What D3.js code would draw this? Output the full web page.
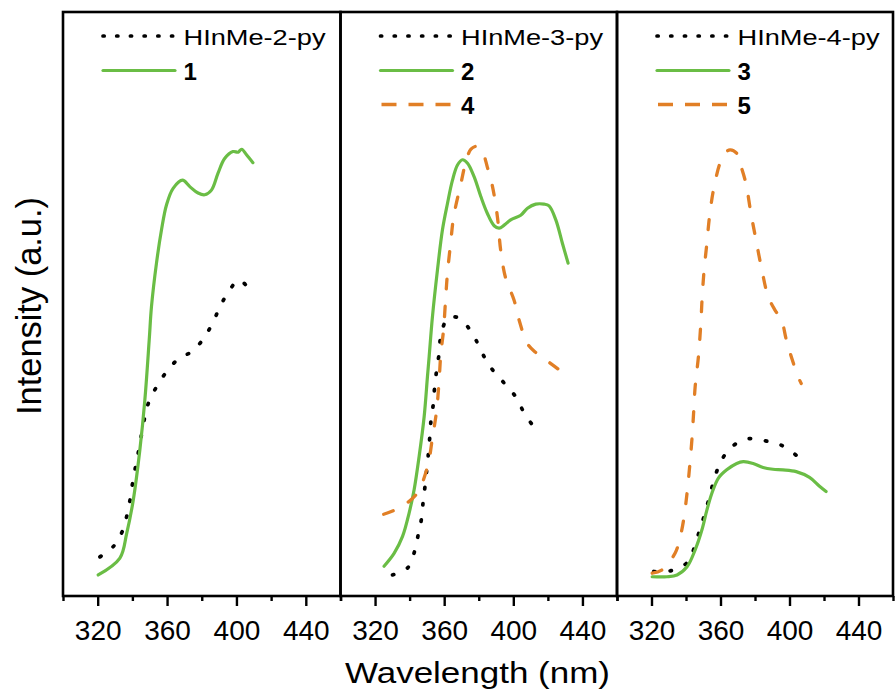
<!DOCTYPE html>
<html><head><meta charset="utf-8">
<script src="https://cdn.jsdelivr.net/npm/d3@7"></script>
<style>
body{margin:0;background:#fff}
text{font-family:"Liberation Sans",Arial,Helvetica,sans-serif;fill:#000}
</style>
</head><body>
<svg id="chart" width="895" height="695"></svg>
<script>
// ---------- data ----------
const xTicks = [300,320,340,360,380,400,420,440,460];
const xTickLabels = [320,360,400,440];

// Panel 1
const wl2py  = [321.3,329.4,334.1,336.7,338.6,340.1,341.8,343.7,347.2,349.7,354.3,360.0,366.9,374.6,381.3,386.5,390.8,396.1,401.5,408.6];
const int2py = [6.7,8.6,11.0,13.6,16.4,19.3,22.1,25.0,30.7,33.4,36.0,38.5,40.7,41.9,44.2,46.9,49.7,52.4,54.1,52.1];
const wlC1   = [320.3,332.8,336.7,340.5,344.3,347.2,349.7,351.0,353.9,356.8,359.7,363.5,368.9,373.1,377.9,381.7,385.6,389.4,393.2,398.0,401.0,403.0,405.7,409.5];
const intC1  = [3.6,6.5,10.7,16.4,25.0,33.6,43.8,49.5,57.0,62.7,67.0,69.8,71.2,70.1,69.0,68.7,69.5,72.4,74.9,76.1,76.0,76.5,75.6,74.2];

// Panel 2
const wl3py  = [330.1,339.1,343.0,345.1,346.9,347.8,348.9,350.9,351.7,352.4,353.8,354.5,355.7,357.0,358.0,361.5,365.0,369.2,376.4,381.2,386.0,393.7,401.4,406.2,411.7];
const int3py = [3.6,4.9,7.8,10.7,13.3,16.1,18.8,24.5,27.4,30.2,33.1,35.9,38.8,41.4,44.4,47.4,47.8,47.5,44.9,42.1,39.5,36.8,34.1,31.4,29.0];
const wlC2   = [325.2,331.0,335.9,339.7,342.6,345.5,348.4,350.3,351.3,353.2,356.1,359.0,361.9,364.8,367.7,370.6,373.5,377.3,381.2,385.0,388.9,391.8,394.7,398.5,404.3,408.2,413.0,417.8,420.7,424.6,428.4,431.7];
const intC2  = [5.1,7.3,10.2,14.2,18.2,23.9,30.7,37.5,41.0,47.8,55.8,62.7,67.2,71.2,73.8,74.7,74.1,71.8,68.4,65.5,63.4,63.0,63.5,64.4,65.2,66.4,67.1,67.1,66.8,64.4,60.4,57.0];
const wlC4   = [325.0,332.0,343.6,350.3,353.2,355.5,357.0,358.0,359.6,360.9,361.9,363.8,365.5,369.6,372.5,375.5,379.0,382.0,385.0,387.9,390.8,392.7,395.6,400.4,403.3,408.2,413.0,421.7,427.5];
const intC4  = [14.0,14.8,17.3,22.1,27.1,31.5,36.6,41.3,45.5,51.2,55.3,60.6,65.0,70.5,74.3,76.5,77.0,76.2,73.4,70.2,64.9,59.2,54.4,50.7,47.3,43.2,41.7,39.8,38.5];

// Panel 3
const wl4py  = [321.3,330.9,340.6,345.3,348.2,351.1,353.6,356.3,359.7,365.9,375.5,385.1,394.7,404.3];
const int4py = [4.2,4.3,5.7,8.7,11.6,14.2,17.0,19.9,22.7,25.4,26.9,26.6,25.9,24.0];
const wlC3   = [320.4,329.0,334.8,340.6,345.3,349.2,352.1,355.0,358.8,363.6,369.4,373.2,378.9,384.7,390.4,396.2,403.9,411.6,417.4,421.2];
const intC3  = [3.3,3.3,3.6,5.0,7.9,11.3,14.7,17.6,20.2,21.6,22.7,23.0,22.7,22.0,21.7,21.6,21.3,20.3,18.8,17.9];
const wlC5   = [320.4,326.2,333.8,336.7,338.6,340.6,342.1,343.4,344.4,345.3,347.2,348.6,349.4,350.5,352.1,353.6,355.9,359.7,362.6,365.5,369.4,371.3,374.7,377.6,380.5,383.8,387.6,391.5,395.3,398.2,401.0,404.9,406.8];
const intC5  = [3.9,4.5,7.4,10.2,13.0,17.6,22.1,26.7,31.3,35.8,41.0,46.7,51.3,55.8,60.4,64.9,69.5,74.1,75.8,76.4,75.8,74.1,70.7,65.6,61.1,56.1,51.3,49.0,47.3,43.8,41.0,37.6,36.4];

const panel1Names = ["HInMe-2-py","1"];
const panel2Names = ["HInMe-3-py","2","4"];
const panel3Names = ["HInMe-4-py","3","5"];

// ---------- styles / layout ----------
const styles = {
  ligand: {color:"#000000", width:3.7, dash:"1.4,15", cap:"round", legendDash:"1.2,12.5"},
  green:  {color:"#6abd45", width:3.2, dash:null, cap:"round", legendDash:null},
  orange: {color:"#e17f26", width:3.3, dash:"10,17.5", cap:"round", legendDash:"15,12"}
};

const panels = [
  {left:63,    right:340.5, series:[
     {name:panel1Names[0], s:"ligand", x:wl2py, y:int2py},
     {name:panel1Names[1], s:"green",  x:wlC1,  y:intC1}]},
  {left:340.5, right:617,   series:[
     {name:panel2Names[0], s:"ligand", x:wl3py, y:int3py},
     {name:panel2Names[1], s:"green",  x:wlC2,  y:intC2},
     {name:panel2Names[2], s:"orange", x:wlC4,  y:intC4}]},
  {left:617,   right:893,   series:[
     {name:panel3Names[0], s:"ligand", x:wl4py, y:int4py},
     {name:panel3Names[1], s:"green",  x:wlC3,  y:intC3},
     {name:panel3Names[2], s:"orange", x:wlC5,  y:intC5}]}
];

const plotTop = 12, plotBottom = 596;
const svg = d3.select("#chart");
svg.append("rect").attr("width",895).attr("height",695).attr("fill","#fff");

const yScale = d3.scaleLinear().domain([0,100]).range([plotBottom, plotTop]);
const legendRowY = [36, 70.5, 104.5];

panels.forEach(p => {
  const x = d3.scaleLinear().domain([300,460]).range([p.left, p.right]);
  const g = svg.append("g");

  const line = d3.line().x(d=>x(d[0])).y(d=>yScale(d[1])).curve(d3.curveCatmullRom.alpha(0.5));
  p.series.forEach(s => {
    const st = styles[s.s];
    const pts = s.x.map((v,i)=>[v, s.y[i]]);
    g.append("path").datum(pts)
      .attr("d", line)
      .attr("fill","none")
      .attr("stroke", st.color)
      .attr("stroke-width", st.width)
      .attr("stroke-linecap", st.cap)
      .attr("stroke-linejoin","round")
      .attr("stroke-dasharray", st.dash);
  });

  // frame
  g.append("rect")
    .attr("x", p.left).attr("y", plotTop)
    .attr("width", p.right - p.left).attr("height", plotBottom - plotTop)
    .attr("fill","none").attr("stroke","#000").attr("stroke-width",2.6);

  // axis
  const axis = d3.axisBottom(x)
    .tickValues(xTicks)
    .tickSizeInner(10).tickSizeOuter(0).tickPadding(14)
    .tickFormat(d => xTickLabels.includes(d) ? d : "");
  const ag = g.append("g").attr("transform",`translate(0,${plotBottom})`).call(axis);
  ag.select(".domain").remove();
  ag.selectAll(".tick line").attr("stroke","#000").attr("stroke-width",2.4)
    .attr("y2", d => xTickLabels.includes(d) ? 10 : 5);
  ag.selectAll(".tick text").attr("fill","#000")
    .style("font-size","28px")
    .style("font-family",'"Liberation Sans",Arial,sans-serif');

  // legend
  p.series.forEach((s,i) => {
    const st = styles[s.s];
    const ly = legendRowY[i];
    const x1 = p.left + (s.s === "orange" ? 41 : 40);
    const x2 = p.left + 112;
    g.append("line")
      .attr("x1", x1).attr("x2", x2).attr("y1", ly).attr("y2", ly)
      .attr("stroke", st.color).attr("stroke-width", st.width)
      .attr("stroke-linecap", s.s === "orange" ? "butt" : "round")
      .attr("stroke-dasharray", st.legendDash);
    const t = g.append("text")
      .attr("x", p.left + 120.5)
      .text(s.name);
    if (i === 0) {
      t.attr("y", ly + 9).style("font-size","21.5px")
       .attr("textLength",142).attr("lengthAdjust","spacingAndGlyphs");
    } else {
      t.attr("y", ly + 9).style("font-size","24px").style("font-weight","bold");
    }
  });
});

// axis titles
svg.append("text")
  .attr("x", 477.5).attr("y", 683)
  .attr("text-anchor","middle")
  .style("font-size","29px")
  .attr("textLength",265).attr("lengthAdjust","spacingAndGlyphs")
  .text("Wavelength (nm)");

svg.append("text")
  .attr("transform","translate(40.5,306) rotate(-90)")
  .attr("text-anchor","middle")
  .style("font-size","35px")
  .attr("textLength",218).attr("lengthAdjust","spacingAndGlyphs")
  .text("Intensity (a.u.)");
</script>
</body></html>
